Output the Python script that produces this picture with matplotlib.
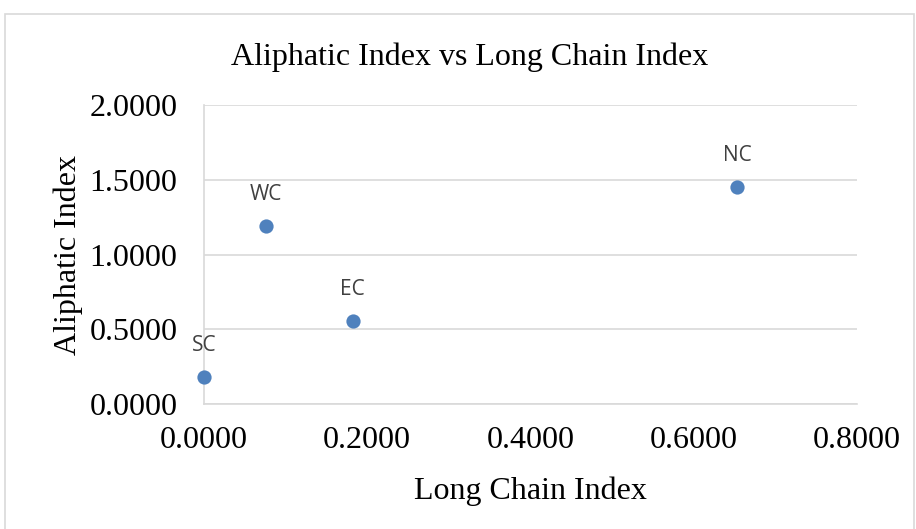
import matplotlib.pyplot as plt
from matplotlib.patches import Rectangle

# sample sites and their indices
sites = ['SC', 'WC', 'EC', 'NC']
long_chain = [0.0, 0.076, 0.182, 0.653]
aliphatic = [0.179, 1.19, 0.555, 1.449]

x_ticks = [0.0, 0.2, 0.4, 0.6, 0.8]
y_ticks = [0.0, 0.5, 1.0, 1.5, 2.0]

serif = 'Liberation Serif'
grid_col = '#d9d9d9'
dot_col = '#4F81BD'

fig = plt.figure(figsize=(9.16, 5.29), dpi=100)
ax = fig.add_axes([0.2227, 0.2363, 0.7129, 0.5652])

# chart area border
fig.patches.append(Rectangle((5 / 916, -0.01), 909 / 916, 1.01 - 14 / 529, transform=fig.transFigure,
                             fill=False, edgecolor=grid_col, linewidth=1.2))

ax.scatter(long_chain, aliphatic, s=105, color=dot_col, zorder=3, linewidths=0, clip_on=False)
for name, x, y in zip(sites, long_chain, aliphatic):
    ax.annotate(name, (x, y), xytext=(0, 23), textcoords='offset points',
                ha='center', va='center', fontsize=15, family='Open Sans', color='#404040')

ax.set_xlim(0, 0.8)
ax.set_ylim(0, 2.0)
ax.set_xticks(x_ticks)
ax.set_yticks(y_ticks)
ax.set_xticklabels([f'{v:.4f}' for v in x_ticks], family=serif, fontsize=23)
ax.set_yticklabels([f'{v:.4f}' for v in y_ticks], family=serif, fontsize=23)
ax.tick_params(axis='x', length=0, pad=16)
ax.tick_params(axis='y', length=0, pad=19)
ax.grid(axis='y', color=grid_col, linewidth=1.2)
ax.set_axisbelow(True)
for side in ['top', 'right']:
    ax.spines[side].set_visible(False)
for side in ['left', 'bottom']:
    ax.spines[side].set_color(grid_col)
    ax.spines[side].set_linewidth(1.2)

fig.text(470 / 916, 1 - 57 / 529, 'Aliphatic Index vs Long Chain Index', family=serif, fontsize=23,
         ha='center', va='center')
ax.set_xlabel('Long Chain Index', family=serif, fontsize=23, labelpad=15)
ax.set_ylabel('Aliphatic Index', family=serif, fontsize=23, labelpad=5)

fig.savefig('out.png', dpi=100)
